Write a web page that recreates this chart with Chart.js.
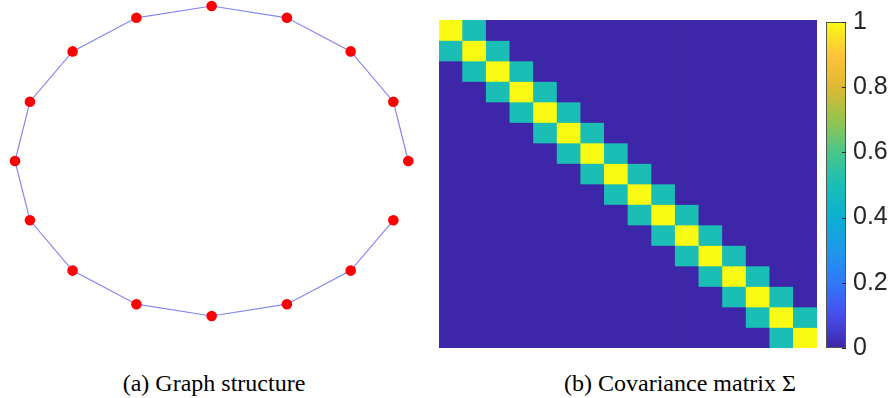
<!DOCTYPE html>
<html>
<head>
<meta charset="utf-8">
<script src="https://cdn.jsdelivr.net/npm/chart.js@4.4.1/dist/chart.umd.min.js"></script>
<style>
  html, body { margin: 0; padding: 0; background: #ffffff; }
  #page { position: relative; width: 895px; height: 398px; overflow: hidden; background: #fff; }
  canvas { position: absolute; }
  .caption { position: absolute; font-family: 'Liberation Serif', 'DejaVu Serif', 'Times New Roman', serif; font-size: 24px; line-height: 28px; color: #000; white-space: nowrap; transform: translateX(-50%); }
</style>
</head>
<body>
<div id="page">
  <canvas id="graph" width="430" height="330" style="left:0px;top:0px;width:430px;height:330px;"></canvas>
  <canvas id="heat" width="378" height="328" style="left:439px;top:20px;width:378px;height:328px;"></canvas>
  <canvas id="cbar" width="69" height="372" style="left:826px;top:0px;width:69px;height:372px;"></canvas>
  <div class="caption" style="left:214px;top:369px;">(a) Graph structure</div>
  <div class="caption" style="left:680px;top:369px;">(b) Covariance matrix Σ</div>
</div>
<script>
// Node positions of the 16-node chain graph (unit circle layout)
const nodeX = [1, 0.9239, 0.7071, 0.3827, 0, -0.3827, -0.7071, -0.9239, -1, -0.9239, -0.7071, -0.3827, 0, 0.3827, 0.7071, 0.9239];
const nodeY = [0, 0.3827, 0.7071, 0.9239, 1, 0.9239, 0.7071, 0.3827, 0, -0.3827, -0.7071, -0.9239, -1, -0.9239, -0.7071, -0.3827];

// Covariance matrix: unit diagonal, 0.5 on the first off-diagonals, zero elsewhere
const covDiagonal = [1, 1, 1, 1, 1, 1, 1, 1, 1, 1, 1, 1, 1, 1, 1, 1];
const covOffDiagonal = [0.5, 0.5, 0.5, 0.5, 0.5, 0.5, 0.5, 0.5, 0.5, 0.5, 0.5, 0.5, 0.5, 0.5, 0.5];
const matrixLabels = ['1','2','3','4','5','6','7','8','9','10','11','12','13','14','15','16'];

// Colour bar ticks
const colorbarTicks = [0, 0.2, 0.4, 0.6, 0.8, 1];

// Parula colour stops
const parulaStops = [
  [0.00, [62, 38, 168]],
  [0.10, [71, 78, 236]],
  [0.20, [48, 120, 250]],
  [0.30, [30, 152, 234]],
  [0.40, [12, 176, 212]],
  [0.50, [26, 190, 181]],
  [0.60, [72, 199, 138]],
  [0.70, [150, 196, 76]],
  [0.80, [222, 185, 50]],
  [0.90, [254, 196, 56]],
  [1.00, [249, 251, 20]]
];
function parula(v) {
  v = Math.max(0, Math.min(1, v));
  for (let i = 1; i < parulaStops.length; i++) {
    const [t1, c1] = parulaStops[i];
    const [t0, c0] = parulaStops[i - 1];
    if (v <= t1) {
      const f = (v - t0) / (t1 - t0);
      const c = c0.map((a, k) => Math.round(a + (c1[k] - a) * f));
      return `rgb(${c[0]},${c[1]},${c[2]})`;
    }
  }
  const c = parulaStops[parulaStops.length - 1][1];
  return `rgb(${c[0]},${c[1]},${c[2]})`;
}

// Build full matrix from its bands
const n = covDiagonal.length;
const cov = [];
for (let r = 0; r < n; r++) {
  const row = [];
  for (let c = 0; c < n; c++) {
    if (r === c) row.push(covDiagonal[r]);
    else if (Math.abs(r - c) === 1) row.push(covOffDiagonal[Math.min(r, c)]);
    else row.push(0);
  }
  cov.push(row);
}

Chart.defaults.animation = false;
Chart.defaults.font.family = "'Liberation Sans', Arial, sans-serif";

// (a) chain graph
new Chart(document.getElementById('graph'), {
  type: 'scatter',
  data: {
    datasets: [{
      data: nodeX.map((x, i) => ({ x: x, y: nodeY[i] })),
      showLine: true,
      borderColor: '#8585f5',
      borderWidth: 1.2,
      pointRadius: 5.3,
      pointBackgroundColor: '#ff0000',
      pointBorderWidth: 0,
      pointHoverRadius: 5.3,
      clip: false
    }]
  },
  options: {
    responsive: false,
    devicePixelRatio: 1,
    layout: { padding: { left: 15, right: 21.7, top: 6, bottom: 14 } },
    plugins: { legend: { display: false }, tooltip: { enabled: false } },
    scales: {
      x: { type: 'linear', min: -1, max: 1, display: false },
      y: { type: 'linear', min: -1, max: 1, display: false }
    }
  }
});

// (b) covariance heat map drawn as floating bars
const heatBg = {
  id: 'heatBg',
  beforeDatasetsDraw(chart) {
    const a = chart.chartArea, ctx = chart.ctx;
    ctx.save();
    ctx.fillStyle = parula(0);
    ctx.fillRect(a.left, a.top, a.right - a.left, a.bottom - a.top);
    ctx.restore();
  }
};
new Chart(document.getElementById('heat'), {
  type: 'bar',
  data: {
    labels: matrixLabels,
    datasets: cov.map((row, r) => ({
      data: row.map(() => [r, r + 1]),
      backgroundColor: row.map(v => parula(v)),
      borderWidth: 0,
      grouped: false,
      categoryPercentage: 1,
      barPercentage: 1
    }))
  },
  options: {
    responsive: false,
    devicePixelRatio: 1,
    layout: { padding: 0 },
    plugins: { legend: { display: false }, tooltip: { enabled: false } },
    scales: {
      x: { display: false, offset: true },
      y: { display: false, min: 0, max: n, reverse: true }
    }
  },
  plugins: [heatBg]
});

// Colour bar
const inwardTicks = {
  id: 'inwardTicks',
  afterDatasetsDraw(chart) {
    const s = chart.scales.y, a = chart.chartArea, ctx = chart.ctx;
    ctx.save();
    ctx.strokeStyle = '#262626';
    ctx.lineWidth = 1;
    colorbarTicks.forEach(v => {
      const y = Math.round(s.getPixelForValue(v)) + 0.5;
      ctx.beginPath();
      ctx.moveTo(a.right - 4, y);
      ctx.lineTo(a.right, y);
      ctx.stroke();
    });
    ctx.restore();
  }
};
new Chart(document.getElementById('cbar'), {
  type: 'bar',
  data: {
    labels: [''],
    datasets: [{
      data: [[0, 1]],
      backgroundColor(ctx) {
        const a = ctx.chart.chartArea;
        if (!a) return parula(0.5);
        const g = ctx.chart.ctx.createLinearGradient(0, a.bottom, 0, a.top);
        parulaStops.forEach(([t, c]) => g.addColorStop(t, `rgb(${c[0]},${c[1]},${c[2]})`));
        return g;
      },
      borderColor: '#555555',
      borderWidth: 1,
      borderSkipped: false,
      categoryPercentage: 1,
      barPercentage: 1,
      inflateAmount: 0
    }]
  },
  options: {
    responsive: false,
    devicePixelRatio: 1,
    layout: { padding: { left: 0, right: 0, top: 20, bottom: 24 } },
    plugins: { legend: { display: false }, tooltip: { enabled: false } },
    scales: {
      x: { display: false },
      y: {
        position: 'right',
        min: 0, max: 1,
        afterFit(scale) { scale.width = 49; },
        afterBuildTicks(scale) { scale.ticks = colorbarTicks.map(v => ({ value: v })); },
        grid: { display: false, drawTicks: false, tickLength: 0 },
        border: { display: false },
        ticks: {
          padding: 7,
          color: '#262626',
          font: { size: 25, family: "'Liberation Sans', Arial, sans-serif" },
          callback: v => String(Math.round(v * 10) / 10)
        }
      }
    }
  },
  plugins: [inwardTicks]
});
</script>
</body>
</html>
